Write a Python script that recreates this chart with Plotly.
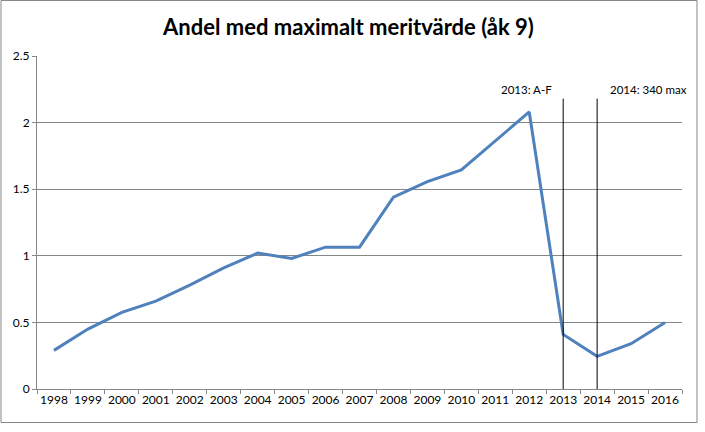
import plotly.graph_objects as go

years = [str(y) for y in range(1998, 2017)]
values = [0.29, 0.45, 0.575, 0.66, 0.78, 0.91, 1.02, 0.98, 1.065, 1.065,
          1.44, 1.557, 1.645, 1.865, 2.08, 0.41, 0.245, 0.34, 0.50]
event_years = ["2013", "2014"]
event_labels = ["2013: A-F", "2014: 340 max"]
y_ticks = [0, 0.5, 1, 1.5, 2, 2.5]
y_tick_labels = ["0", "0.5", "1", "1.5", "2", "2.5"]
title = "Andel med maximalt meritvärde (åk 9)"

W, H = 705, 432
L, R, T, B = 37, 23, 56, 43
pw, ph = W - L - R, H - T - B

font = "Lato"
fig = go.Figure()
fig.add_trace(go.Scatter(x=years, y=values, mode="lines",
                         line=dict(color="#4F81BD", width=3),
                         hoverinfo="x+y", showlegend=False))

for yr in event_years:
    idx = years.index(yr)
    fig.add_shape(type="line", xref="x", yref="y", x0=idx, x1=idx, y0=0, y1=2.18,
                  line=dict(color="black", width=1))

i0 = years.index(event_years[0])
i1 = years.index(event_years[1])
fig.add_annotation(x=i0, y=2.245, xref="x", yref="y", text=event_labels[0],
                   showarrow=False, xanchor="right", xshift=-9,
                   font=dict(family=font, size=11.5, color="black"))
fig.add_annotation(x=i1, y=2.245, xref="x", yref="y", text=event_labels[1],
                   showarrow=False, xanchor="left", xshift=11,
                   font=dict(family=font, size=11.5, color="black"))

# outer border
fig.add_shape(type="rect", xref="paper", yref="paper",
              x0=(1 - L) / pw, x1=(697 - L) / pw,
              y0=(T + ph - 422.5) / ph, y1=(T + ph - 0.5) / ph,
              line=dict(color="#868686", width=1), fillcolor="rgba(0,0,0,0)", layer="below")

fig.update_layout(
    width=W, height=H,
    margin=dict(l=L, r=R, t=T, b=B),
    paper_bgcolor="white", plot_bgcolor="white",
    title=dict(text="<b>" + title + "</b>", x=348.5 / W, xref="container", xanchor="center",
               y=1 - 27 / H, yanchor="middle", yref="container",
               font=dict(family=font, size=22, color="black")),
    xaxis=dict(type="category", categoryorder="array", categoryarray=years,
               range=[-0.5, len(years) - 0.5],
               showgrid=False, tickson="boundaries",
               ticks="outside", ticklen=4, tickcolor="#868686", tickangle=0,
               showline=True, linecolor="#868686", linewidth=1,
               tickfont=dict(family=font, size=12, color="black"), fixedrange=True),
    yaxis=dict(range=[0, 2.5], tickvals=y_ticks, ticktext=y_tick_labels,
               showgrid=True, gridcolor="#868686", gridwidth=1,
               ticks="outside", ticklen=4, tickcolor="#868686",
               showline=True, linecolor="#868686", linewidth=1,
               zeroline=False,
               tickfont=dict(family=font, size=12, color="black"), fixedrange=True),
)

fig.write_html("out.html", config={"displayModeBar": False},
               post_script="document.body.style.margin='0';")
